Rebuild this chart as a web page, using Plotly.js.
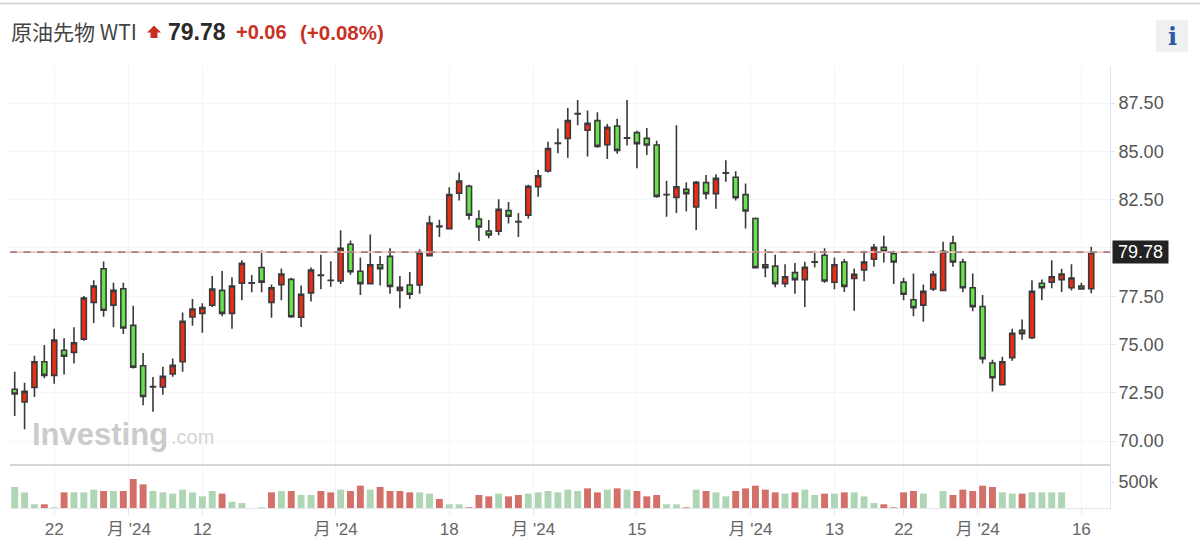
<!DOCTYPE html>
<html><head><meta charset="utf-8">
<script src="https://cdn.plot.ly/plotly-3.0.1.min.js"></script>
<style>html,body{margin:0;padding:0;background:#fff}#chart{width:1200px;height:554px}</style>
</head><body><div id="chart"></div>
<script>
const openPrice = [72.68,72.02,72.78,74.11,73.40,74.70,74.59,75.28,77.18,78.92,77.04,77.89,75.99,73.90,72.80,72.80,73.47,74.11,76.42,76.61,77.03,77.80,76.61,78.17,78.17,78.99,77.18,78.10,78.37,76.41,77.67,78.57,78.31,78.29,80.19,78.79,78.15,79.13,79.56,77.80,78.08,78.08,79.60,81.10,81.00,82.83,83.19,81.50,80.88,80.86,81.93,81.35,81.70,83.17,83.98,85.41,85.67,86.94,86.09,86.59,85.35,86.31,85.68,85.97,85.67,85.33,82.75,82.62,83.03,82.12,83.38,82.81,83.87,83.66,82.76,81.52,79.13,79.06,78.15,78.72,78.36,79.26,79.62,78.22,79.27,78.42,78.86,79.41,80.03,79.70,78.23,77.32,77.04,77.87,77.80,80.25,79.27,77.94,76.97,74.04,72.92,74.32,75.73,75.35,78.17,78.23,78.36,77.94,78.03,77.89];
const highPrice = [73.59,73.02,74.42,74.97,75.82,75.32,75.89,77.51,78.32,79.30,78.20,78.20,77.01,74.56,73.32,73.85,74.28,76.65,77.35,77.13,78.55,78.80,78.48,79.36,78.60,79.87,78.10,78.94,78.46,78.05,78.99,79.65,79.31,80.91,80.39,79.51,80.70,79.58,79.98,78.55,78.75,79.93,81.67,81.46,83.14,83.91,83.27,81.95,81.45,82.52,82.38,81.81,83.27,84.05,85.50,86.19,87.25,87.66,87.11,87.02,86.42,86.69,87.66,86.07,86.21,85.55,83.48,86.35,83.40,83.47,83.78,83.81,84.54,83.97,83.33,81.58,79.93,79.65,79.15,79.22,79.29,79.86,79.98,79.50,79.43,78.94,79.86,80.20,80.63,79.86,78.46,78.68,78.10,78.80,80.32,80.63,79.44,78.67,77.56,74.21,74.37,75.82,76.30,78.32,78.37,79.36,78.92,79.15,78.20,80.06];
const lowPrice = [71.30,70.61,72.28,73.25,72.97,73.45,74.01,75.20,76.11,76.44,75.89,75.54,73.76,71.85,71.52,72.40,73.33,73.59,75.97,75.61,76.94,76.46,75.82,77.29,77.70,77.70,76.39,77.29,76.39,75.91,77.22,77.86,77.99,78.13,78.61,77.56,78.10,78.05,77.63,76.87,77.35,77.63,79.58,80.57,80.98,82.45,81.46,80.36,80.50,80.65,81.26,80.57,81.53,82.65,83.91,84.90,84.67,86.35,84.74,85.19,84.60,84.88,85.31,84.12,84.81,82.60,81.62,81.81,81.89,80.93,82.52,82.03,83.43,82.46,81.00,78.93,78.48,77.96,77.97,77.63,76.94,78.98,78.20,77.86,77.72,76.75,78.27,79.03,79.25,78.13,77.29,76.46,76.18,77.77,77.79,79.03,77.70,76.72,74.01,72.56,72.90,74.16,75.25,75.28,77.29,77.91,77.72,77.79,77.84,77.65];
const closePrice = [72.44,72.57,74.11,73.40,75.23,74.39,75.09,77.41,78.03,76.77,77.80,75.85,73.83,72.31,72.82,73.35,73.92,76.20,76.84,76.91,77.87,76.61,78.03,79.20,78.19,78.23,77.94,78.65,76.44,77.60,78.86,78.59,78.33,79.98,78.77,78.15,79.13,78.93,78.01,77.96,77.60,79.75,81.29,81.13,82.76,83.46,81.70,81.08,80.67,82.00,81.64,81.37,83.19,83.74,85.14,85.43,86.59,86.96,86.45,85.26,86.24,85.05,85.70,85.40,85.33,82.67,82.77,83.17,82.81,83.40,82.81,83.60,83.89,82.60,81.91,78.98,78.98,78.15,78.51,78.36,79.00,79.28,78.29,79.13,78.01,78.63,79.27,80.03,79.82,79.27,77.60,76.91,77.75,78.63,79.82,79.27,77.94,76.96,74.27,73.28,74.11,75.58,75.56,77.75,77.94,78.51,78.65,78.44,77.87,79.77];

const volume = [404,301,71,71,13,301,301,301,353,327,327,327,558,455,327,301,276,353,301,224,327,276,122,96,null,13,301,327,327,250,250,327,301,353,327,429,353,404,327,327,301,301,276,173,71,71,13,250,224,276,224,250,276,301,327,301,353,327,378,301,353,378,353,327,224,250,71,71,13,353,327,301,224,327,378,429,353,301,276,301,353,250,276,276,301,301,224,96,71,13,301,327,276,null,327,250,353,327,429,404,301,276,276,301,301,301,301,null,null,null];
const volColors = ["g","g","g","r","g","r","g","g","g","r","g","r","r","r","g","g","g","g","g","g","g","r","g","g","g","g","r","g","r","g","g","r","r","g","r","r","g","r","r","r","r","g","g","r","g","g","r","r","r","g","r","r","g","g","g","g","g","g","r","r","g","r","g","r","r","r","g","g","r","g","r","g","g","r","r","r","r","r","g","r","g","g","r","g","r","g","g","g","r","r","r","r","g","g","g","r","r","r","r","r","g","g","r","g","g","g","g","g","g","g"];
const tickPositions = [4,11.57,19,32.5,44,52.5,63,74.5,83,90,97.5,108];
const tickLabels = ["22","月 '24","12","月 '24","18","月 '24","15","月 '24","13","22","月 '24","16"];
const priceTicks = [70,72.5,75,77.5,80,82.5,85,87.5];
const priceTickLabels = ["70.00","72.50","75.00","77.50","","82.50","85.00","87.50"];
const lastPrice = 79.78;

const idx = openPrice.map((_, i) => i);
const px = v => (v - 10) / 1100;
const py = v => 1 - (v - 66) / 442;
const FONT = "'Liberation Sans', Arial, sans-serif";
const note = (x, y, text, size, color, extra) => Object.assign({
  xref:'paper', yref:'paper', x:px(x), y:py(y), text, showarrow:false, xanchor:'left', yanchor:'middle',
  font:{family:FONT, size, color}
}, extra || {});

const traces = [
  { type:'candlestick', x:idx, open:openPrice, high:highPrice, low:lowPrice, close:closePrice,
    xaxis:'x', yaxis:'y', whiskerwidth:0, hoverinfo:'skip',
    increasing:{line:{color:'#3a3a3a', width:1.6}, fillcolor:'#ee2c14'},
    decreasing:{line:{color:'#3a3a3a', width:1.6}, fillcolor:'#66e24c'} },
  { type:'bar', x:idx, y:volume.map(v => v === null ? null : v * 1000), xaxis:'x', yaxis:'y2', width:0.7, hoverinfo:'skip',
    marker:{color:volColors.map(c => c === 'r' ? '#d3706a' : '#aed6b5'), line:{width:0}} }
];

const layout = {
  width:1200, height:554, showlegend:false, hovermode:false, bargap:0.3,
  boxgap:0.27,
  paper_bgcolor:'#fff', plot_bgcolor:'#fff',
  margin:{l:10, r:90, t:66, b:46, pad:0},
  font:{family:FONT, color:'#555'},
  xaxis:{ domain:[0,1], range:[-0.476,110.9], anchor:'y2', type:'linear', rangeslider:{visible:false},
    tickmode:'array', tickvals:tickPositions, ticktext:tickLabels, ticks:'outside', ticklen:6, tickcolor:'#e4e7ef', tickwidth:1,
    tickfont:{family:FONT+", 'Noto Sans CJK JP'", size:17, color:'#666'},
    showgrid:true, gridcolor:'#f4f5f7', gridwidth:1, showline:true, linecolor:'#e2e5ee', linewidth:1, zeroline:false },
  yaxis:{ domain:[43/442,1], range:[68.76,89.42], side:'right', anchor:'x',
    tickmode:'array', tickvals:priceTicks, ticktext:priceTickLabels, ticks:'outside', ticklen:4, tickcolor:'#dfe3ee',
    tickfont:{family:FONT, size:18, color:'#555'}, showgrid:true, gridcolor:'#f5f6f8', gridwidth:1,
    showline:true, linecolor:'#dfe3ee', linewidth:1, zeroline:false },
  yaxis2:{ domain:[0,43/442], range:[0,827000], side:'right', anchor:'x',
    tickmode:'array', tickvals:[500000], ticktext:['500k'], ticks:'outside', ticklen:4, tickcolor:'#dfe3ee',
    tickfont:{family:FONT, size:18, color:'#555'}, showgrid:false,
    showline:true, linecolor:'#dfe3ee', linewidth:1, zeroline:false },
  shapes:[
    {type:'line', xref:'paper', yref:'paper', x0:-10/1100, x1:1190/1100, y0:py(3.5), y1:py(3.5), line:{color:'#cfcfcf', width:1.5}},
    {type:'line', xref:'paper', yref:'paper', x0:0, x1:1, y0:py(465), y1:py(465), line:{color:'#d6d6d6', width:2}},
    {type:'line', xref:'paper', yref:'y', x0:0, x1:1, y0:lastPrice, y1:lastPrice, line:{color:'#f8c4c0', width:1.6}},
    {type:'line', xref:'paper', yref:'y', x0:0, x1:1, y0:lastPrice, y1:lastPrice, line:{color:'#7a6a6a', width:1.2, dash:'7px,6.5px'}},
    {type:'path', xref:'paper', yref:'paper', fillcolor:'#c9301f', line:{width:0},
     path:`M ${px(154)} ${py(25.5)} L ${px(161)} ${py(32.5)} L ${px(157.5)} ${py(32.5)} L ${px(157.5)} ${py(38)} L ${px(150.5)} ${py(38)} L ${px(150.5)} ${py(32.5)} L ${px(147)} ${py(32.5)} Z`},
    {type:'rect', xref:'paper', yref:'paper', x0:px(1156), x1:px(1188), y0:py(20), y1:py(52), fillcolor:'#f0f0f0', line:{width:0}}
  ],
  annotations:[
    note(9, 31, "原油先物 WTI", 21, '#444', {font:{family:"'Noto Sans CJK JP', sans-serif", size:21, color:'#444'}}),
    note(166, 32, "<b>79.78</b>", 23, '#2a2a2a'),
    note(234, 32, "<b>+0.06</b>", 20, '#c9301f'),
    note(298, 32, "<b>(+0.08%)</b>", 20.5, '#c9301f'),
    note(1172, 36, "<b>i</b>", 24, '#2a5aa8', {xanchor:'center', font:{family:"'DejaVu Serif', serif", size:24, color:'#2a5aa8'}}),
    note(30, 434, "<b>Investing</b>", 31, '#cbcbcb'),
    note(169, 437, ".com", 20, '#d4d4d4'),
    {xref:'paper', yref:'y', x:px(1112), y:lastPrice, text:"79.78", showarrow:false, xanchor:'left', yanchor:'middle',
     bgcolor:'#222', width:55, height:22, borderpad:0, font:{family:FONT, size:18, color:'#fff'}}
  ]
};
Plotly.newPlot('chart', traces, layout, {displayModeBar:false, staticPlot:true});
</script></body></html>
